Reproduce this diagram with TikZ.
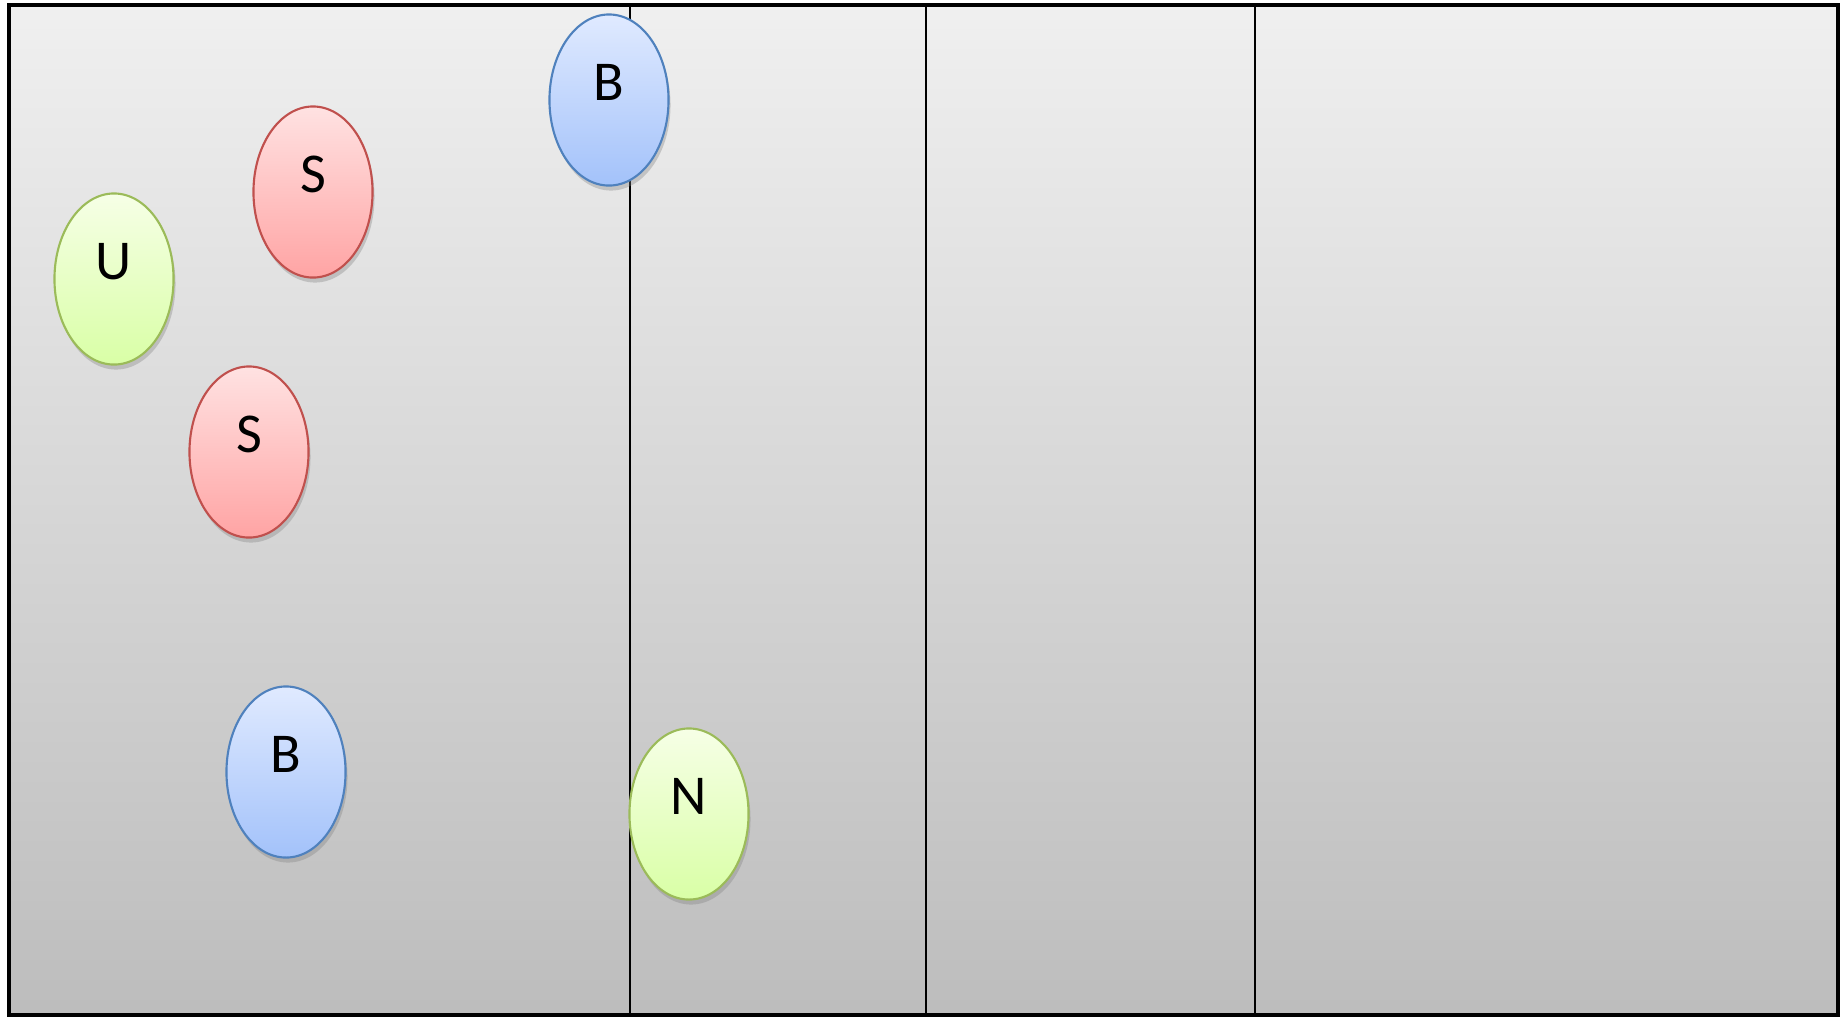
\documentclass[tikz,border=0pt]{standalone}
\usepackage{fontspec}
\setmainfont{Carlito}
\usetikzlibrary{shapes.geometric,shadows}
\definecolor{redline}{HTML}{C0504D}
\definecolor{blueline}{HTML}{4F81BD}
\definecolor{greenline}{HTML}{9BBB59}
\definecolor{redtop}{HTML}{FFE2E2}
\definecolor{redbot}{HTML}{FFA4A4}
\definecolor{bluetop}{HTML}{E0EAFF}
\definecolor{bluebot}{HTML}{A3C2FA}
\definecolor{greentop}{HTML}{F6FFE6}
\definecolor{greenbot}{HTML}{D9FFA6}
\tikzset{
  blob/.style={ellipse, inner sep=0pt, minimum width=1.19cm, minimum height=1.71cm,
    line width=0.6pt, text height=0.36cm, text depth=0.36cm, font=\fontsize{16}{18}\selectfont,
    drop shadow={shadow xshift=0.02cm, shadow yshift=-0.05cm, opacity=0.35}},
  sblob/.style={blob, draw=redline, top color=redtop, bottom color=redbot},
  bblob/.style={blob, draw=blueline, top color=bluetop, bottom color=bluebot},
  ublob/.style={blob, draw=greenline, top color=greentop, bottom color=greenbot},
  divider/.style={line width=0.8pt, black}
}
\begin{document}
\begin{tikzpicture}[x=0.01cm, y=-0.01cm]
  \useasboundingbox (0,0) rectangle (1847,1017);
  \shade[top color=black!6, bottom color=black!26] (9,5) rectangle (1838,1015);
  \foreach \xpos in {630,926,1255}{
    \draw[divider] (\xpos,5) -- (\xpos,1015);
  }
  \draw[line width=0.9pt] (9,5) rectangle (1838,1015);
  \node[bblob] (bTop) at (609,100) {B};
  \node[sblob] (sOne) at (313,192) {S};
  \node[ublob] (uLeft) at (114,279) {U};
  \node[sblob] (sTwo) at (249,452) {S};
  \node[bblob] (bLow) at (286,772) {B};
  \node[ublob] (nMid) at (689,814) {N};
\end{tikzpicture}
\end{document}
